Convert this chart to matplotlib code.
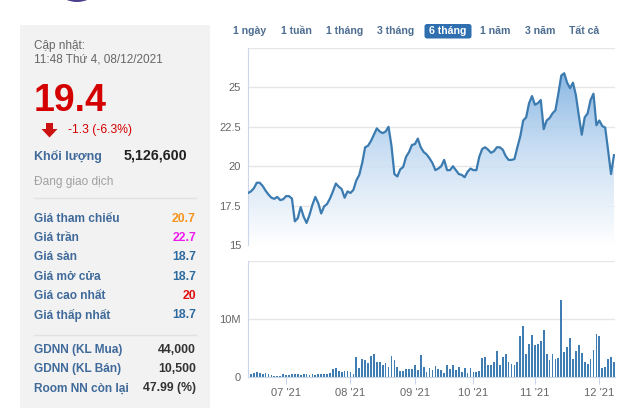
import numpy as np
import matplotlib.pyplot as plt
from matplotlib.colors import LinearSegmentedColormap
from matplotlib.patches import Rectangle, FancyBboxPatch, Polygon, Ellipse

plt.rcParams['font.family'] = ['Liberation Sans', 'DejaVu Sans']

# gia dong cua theo phien (nghin dong), khoang 6 thang den 08/12/2021
price = [18.3, 18.4, 18.6, 18.95, 18.95, 18.75, 18.45, 18.2, 18.0, 17.93,
         18.05, 17.85, 17.9, 18.1, 18.1, 17.95, 16.5, 16.7, 17.4, 16.8,
         16.4, 16.9, 17.55, 18.05, 17.65, 17.0, 17.45, 17.6, 17.95, 18.4,
         18.9, 18.7, 18.55, 18.0, 18.4, 18.3, 18.5, 19.1, 19.45, 20.2,
         21.2, 21.3, 21.6, 22.0, 22.4, 22.2, 22.1, 22.2, 22.5, 21.3,
         19.5, 19.35, 19.8, 19.95, 20.6, 20.9, 21.35, 21.4, 21.75, 21.2,
         20.9, 20.75, 20.5, 20.2, 19.75, 19.85, 20.0, 20.4, 19.75, 19.75,
         20.0, 19.75, 19.5, 19.45, 19.3, 19.65, 19.85, 19.75, 19.75, 20.6,
         21.1, 21.2, 21.05, 20.85, 20.95, 21.2, 21.2, 21.05, 20.65, 20.4,
         20.4, 20.45, 21.2, 21.9, 22.9, 23.1, 24.0, 24.45, 23.9, 24.0,
         24.2, 22.35, 22.9, 23.05, 23.35, 23.55, 24.6, 25.75, 25.9, 25.3,
         24.95, 25.3, 24.5, 23.2, 22.0, 23.1, 23.35, 24.2, 24.6, 22.6,
         22.9, 22.55, 22.45, 21.0, 19.5, 20.7]

# khoi luong khop lenh (trieu co phieu)
volume = [0.85, 0.4, 0.6, 0.85, 0.7, 0.45, 0.7, 0.4, 0.3, 0.2,
          0.2, 0.15, 0.45, 0.3, 0.3, 0.4, 0.45, 0.45, 0.3, 0.45,
          0.4, 0.3, 0.5, 0.3, 0.45, 0.4, 0.4, 0.4, 0.7, 1.35,
          1.45, 1.0, 0.75, 1.0, 1.0, 0.75, 0.55, 3.45, 1.45, 3.05,
          2.9, 2.3, 3.65, 3.9, 2.5, 2.6, 2.0, 2.3, 1.6, 3.6,
          2.9, 1.6, 1.0, 1.0, 1.25, 1.25, 1.25, 2.1, 1.15, 3.75,
          1.6, 0.75, 1.45, 1.15, 1.85, 1.25, 1.15, 0.7, 2.0, 1.3,
          2.0, 1.15, 1.6, 0.85, 1.45, 0.6, 1.55, 0.85, 0.85, 1.05,
          3.3, 3.45, 2.0, 2.0, 2.6, 4.45, 2.0, 3.45, 3.9, 2.5,
          2.2, 2.0, 2.5, 7.05, 8.8, 3.9, 5.65, 7.2, 5.4, 5.65,
          6.2, 8.1, 3.9, 2.9, 3.9, 3.05, 3.3, 13.2, 4.2, 5.2,
          6.65, 3.05, 4.5, 5.5, 4.05, 2.5, 2.2, 3.05, 4.6, 7.4,
          7.05, 1.45, 1.7, 3.0, 3.35, 2.6]

month_pos = [13, 35, 57, 77, 98, 120]
month_labels = ["07 '21", "08 '21", "09 '21", "10 '21", "11 '21", "12 '21"]
price_ticks = [15, 17.5, 20, 22.5, 25, 27.5]
price_tick_labels = ['15', '17.5', '20', '22.5', '25', '']
vol_ticks = [0, 10, 20]
vol_tick_labels = ['0', '10M', '']

tabs = ['1 ngày', '1 tuần', '1 tháng', '3 tháng', '6 tháng', '1 năm', '3 năm', 'Tất cả']
tab_x = [250, 296, 345, 396, 448, 495.5, 540.5, 584.5]
active_tab = 4

info_labels = ['Giá tham chiếu', 'Giá trần', 'Giá sàn', 'Giá mở cửa', 'Giá cao nhất', 'Giá thấp nhất']
info_values = ['20.7', '22.7', '18.7', '18.7', '20', '18.7']
info_colors = ['#f7941d', '#ee1bee', '#2d6a9f', '#2d6a9f', '#e01010', '#2d6a9f']
nn_labels = ['GDNN (KL Mua)', 'GDNN (KL Bán)', 'Room NN còn lại']
nn_values = ['44,000', '10,500', '47.99 (%)']

x = np.arange(len(price))
xmax = 125.35

fig = plt.figure(figsize=(6.3, 4.08), dpi=100)

# lop nen ve bang toa do pixel
bg = fig.add_axes([0, 0, 1, 1], zorder=0)
bg.set_xlim(0, 630)
bg.set_ylim(408, 0)
bg.axis('off')

bg.add_patch(Ellipse((77, -7), 30, 16, fill=False, ec='#4b3c8c', lw=1.4))
bg.add_patch(Rectangle((20, 25), 190, 400, fc='#f2f2f2', ec='none'))

label_col = '#3f6a9a'
bg.text(34, 46, 'Cập nhật:', fontsize=8.5, color='#666666', va='center')
bg.text(34, 59.5, '11:48 Thứ 4, 08/12/2021', fontsize=8.5, color='#666666', va='center')
bg.text(34, 101, '19.4', fontsize=27, color='#d40000', weight='bold', va='center')
bg.add_patch(Polygon([(46, 123), (53, 123), (53, 129), (57.5, 129), (49.5, 137.5), (41.5, 129), (46, 129)],
                     closed=True, fc='#cc1111', ec='none'))
bg.text(68, 129.5, '-1.3 (-6.3%)', fontsize=8.7, color='#d40000', va='center')
bg.text(34, 156, 'Khối lượng', fontsize=9, color=label_col, weight='bold', va='center')
bg.text(187, 155, '5,126,600', fontsize=10.3, color='#222222', weight='bold', va='center', ha='right')
bg.text(34, 182, 'Đang giao dịch', fontsize=8.6, color='#a0a0a0', va='center')
bg.plot([34, 196], [198, 198], color='#e2e2e2', lw=1)

for k, (lab, val, col) in enumerate(zip(info_labels, info_values, info_colors)):
    yy = 218.5 + k * 19.4
    bg.text(34, yy, lab, fontsize=8.6, color=label_col, weight='bold', va='center')
    bg.text(196, yy, val, fontsize=8.8, color=col, weight='bold', va='center', ha='right')

bg.plot([34, 196], [335, 335], color='#e2e2e2', lw=1)
for k, (lab, val) in enumerate(zip(nn_labels, nn_values)):
    yy = 350 + k * 19.2
    bg.text(34, yy, lab, fontsize=8.6, color=label_col, weight='bold', va='center')
    bg.text(196, yy, val, fontsize=8.8, color='#333333', weight='bold', va='center', ha='right')

for k, (t, tx) in enumerate(zip(tabs, tab_x)):
    if k == active_tab:
        bg.add_patch(FancyBboxPatch((424.5, 24), 47, 14.5, boxstyle='round,pad=0,rounding_size=2.5',
                                    fc='#2f6fb0', ec='none'))
        bg.text(tx, 31.3, t, fontsize=7.6, color='white', weight='bold', ha='center', va='center')
    else:
        bg.text(tx, 31.3, t, fontsize=7.6, color='#4d6e91', weight='bold', ha='center', va='center')

# bieu do gia
ax = fig.add_axes([248 / 630, 1 - 245 / 408, 367 / 630, 197 / 408], zorder=1)
ax.set_facecolor('none')
ax.set_xlim(0, xmax)
ax.set_ylim(15, 27.5)
ax.set_yticks(price_ticks)
ax.set_yticklabels(price_tick_labels)
ax.set_xticks([])
ax.grid(axis='y', color='#e6e6e6', lw=1)
ax.set_axisbelow(True)
for s in ['top', 'right', 'bottom']:
    ax.spines[s].set_visible(False)
ax.spines['left'].set_color('#ccd6eb')
ax.tick_params(axis='y', length=0, labelsize=8, labelcolor='#666666', pad=5)

fill = ax.fill_between(x, price, 15, fc='none', ec='none')
cmap = LinearSegmentedColormap.from_list('g', ['#ffffff', '#c2daf2', '#68a2da'])
grad = np.linspace(0, 1, 256).reshape(-1, 1)
im = ax.imshow(grad, extent=[0, xmax, 15, 27.5], origin='lower', aspect='auto', cmap=cmap,
               alpha=0.9, zorder=2)
im.set_clip_path(fill.get_paths()[0], transform=ax.transData)
ax.plot(x, price, color='#3b7bb0', lw=1.6, zorder=3, solid_joinstyle='round')

# bieu do khoi luong
axv = fig.add_axes([248 / 630, 1 - 376.7 / 408, 367 / 630, 116 / 408], zorder=1)
axv.set_facecolor('none')
axv.bar(x, volume, width=0.6, color='#3f7db3', zorder=2)
axv.set_xlim(0, xmax)
axv.set_ylim(0, 20)
axv.set_yticks(vol_ticks)
axv.set_yticklabels(vol_tick_labels)
axv.set_xticks(month_pos)
axv.set_xticklabels(month_labels)
axv.grid(axis='y', color='#e6e6e6', lw=1)
axv.set_axisbelow(True)
for s in ['top', 'right']:
    axv.spines[s].set_visible(False)
axv.spines['left'].set_color('#ccd6eb')
axv.spines['bottom'].set_color('#ccd6eb')
axv.tick_params(axis='y', length=0, labelsize=8, labelcolor='#666666', pad=5)
axv.tick_params(axis='x', length=5, color='#ccd6eb', labelsize=8, labelcolor='#666666', pad=3)

fig.savefig('out.png', dpi=100)
